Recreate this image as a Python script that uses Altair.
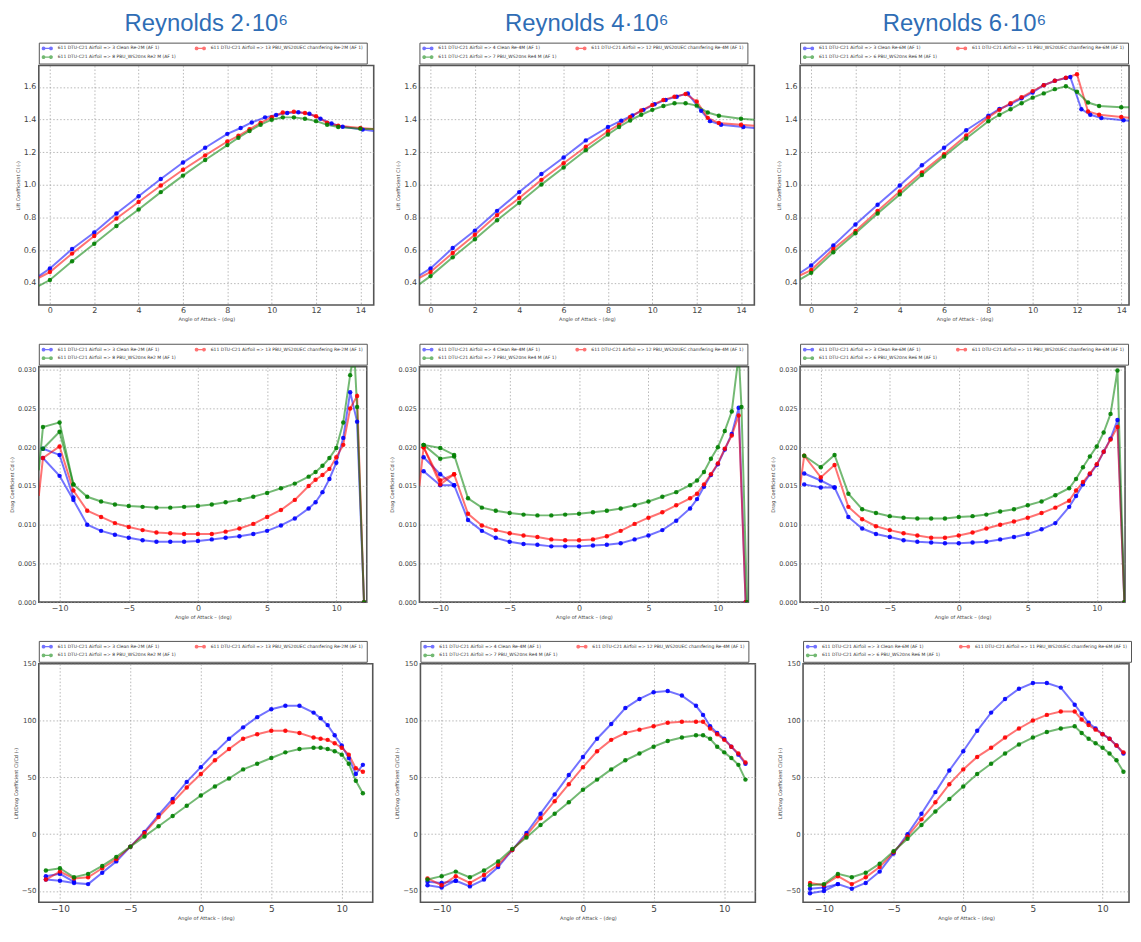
import altair as alt
import pandas as pd

BLUE, RED, GREEN = "#0000ff", "#ff0000", "#008000"

col_titles = ["Reynolds 2·10⁶", "Reynolds 4·10⁶", "Reynolds 6·10⁶"]

labels_2M = ["611 DTU-C21 Airfoil  => 3 Clean Re-2M (AF 1)",
             "611 DTU-C21 Airfoil  => 13 PBU_WS20UEC chamfering Re-2M (AF 1)",
             "611 DTU-C21 Airfoil  => 8 PBU_WS20ns Re2 M (AF 1)"]
labels_4M = ["611 DTU-C21 Airfoil  => 4 Clean Re-4M (AF 1)",
             "611 DTU-C21 Airfoil  => 12 PBU_WS20UEC chamfering Re-4M (AF 1)",
             "611 DTU-C21 Airfoil  => 7 PBU_WS20ns Re4 M (AF 1)"]
labels_6M = ["611 DTU-C21 Airfoil  => 3 Clean Re-6M (AF 1)",
             "611 DTU-C21 Airfoil  => 11 PBU_WS20UEC chamfering Re-6M (AF 1)",
             "611 DTU-C21 Airfoil  => 6 PBU_WS20ns Re6 M (AF 1)"]

# ---------------- Lift coefficient (first/last values are read at the frame edges) ----------------
cl2_blue_a = [-0.5, 0, 1, 2, 3, 4, 5, 6, 7, 8, 8.6, 9.1, 9.7, 10.2, 10.7, 11.2, 11.7, 12.2, 12.7, 13.2, 14.1, 14.6]
cl2_blue_v = [0.44, 0.487, 0.606, 0.707, 0.824, 0.93, 1.035, 1.136, 1.227, 1.312, 1.348, 1.382, 1.413, 1.427, 1.44, 1.445, 1.435, 1.405, 1.375, 1.355, 1.338, 1.33]
cl2_a = [-0.5, 0, 1, 2, 3, 4, 5, 6, 7, 8, 8.5, 9, 9.5, 10, 10.5, 11, 11.5, 12, 12.5, 13, 14, 14.6]
cl2_red_v = [0.43, 0.465, 0.578, 0.686, 0.793, 0.894, 0.995, 1.092, 1.18, 1.265, 1.30, 1.34, 1.38, 1.414, 1.443, 1.447, 1.44, 1.42, 1.38, 1.362, 1.348, 1.342]
cl2_green_v = [0.38, 0.416, 0.531, 0.638, 0.747, 0.848, 0.955, 1.056, 1.152, 1.243, 1.288, 1.33, 1.368, 1.399, 1.413, 1.413, 1.405, 1.39, 1.368, 1.354, 1.344, 1.342]

cl4_blue_a = [-0.5, 0, 1, 2, 3, 4, 5, 6, 7, 8, 8.6, 9.1, 9.6, 10.1, 10.6, 11.1, 11.6, 12.2, 12.6, 13.1, 14.1, 14.6]
cl4_blue_v = [0.445, 0.487, 0.612, 0.719, 0.84, 0.955, 1.066, 1.167, 1.272, 1.354, 1.393, 1.425, 1.459, 1.493, 1.52, 1.54, 1.56, 1.453, 1.39, 1.368, 1.354, 1.348]
cl4_a = [-0.5, 0, 1, 2, 3, 4, 5, 6, 7, 8, 8.5, 9, 9.5, 10, 10.5, 11, 11.5, 12, 12.5, 13, 14, 14.6]
cl4_red_v = [0.43, 0.465, 0.582, 0.693, 0.814, 0.919, 1.03, 1.132, 1.233, 1.328, 1.368, 1.415, 1.455, 1.489, 1.52, 1.54, 1.556, 1.51, 1.41, 1.378, 1.368, 1.362]
cl4_green_v = [0.39, 0.44, 0.555, 0.666, 0.783, 0.89, 1.001, 1.106, 1.211, 1.308, 1.354, 1.394, 1.429, 1.459, 1.483, 1.499, 1.499, 1.485, 1.443, 1.423, 1.405, 1.399]

cl6_blue_a = [-0.5, 0, 1, 2, 3, 4, 5, 6, 7, 8, 8.5, 9, 9.5, 10, 10.5, 11, 11.5, 11.7, 12.2, 12.6, 13.1, 14.1, 14.35]
cl6_blue_v = [0.46, 0.505, 0.628, 0.757, 0.878, 0.995, 1.12, 1.227, 1.334, 1.423, 1.465, 1.493, 1.53, 1.566, 1.61, 1.637, 1.654, 1.66, 1.463, 1.429, 1.409, 1.395, 1.392]
cl6_a = [-0.5, 0, 1, 2, 3, 4, 5, 6, 7, 8, 8.5, 9, 9.5, 10, 10.5, 11, 11.5, 12, 12.5, 13, 14, 14.35]
cl6_red_v = [0.445, 0.477, 0.606, 0.717, 0.84, 0.959, 1.076, 1.187, 1.302, 1.413, 1.459, 1.5, 1.536, 1.574, 1.61, 1.637, 1.656, 1.677, 1.449, 1.429, 1.415, 1.411]
cl6_green_v = [0.42, 0.46, 0.586, 0.703, 0.824, 0.941, 1.06, 1.173, 1.284, 1.389, 1.429, 1.463, 1.5, 1.534, 1.56, 1.586, 1.604, 1.57, 1.504, 1.483, 1.475, 1.475]

# ---------------- Drag coefficient ----------------
cd_a = [-11.2, -10, -9, -8, -7, -6, -5, -4, -3, -2, -1, 0, 1, 2, 3, 4, 5, 6, 7, 8, 8.5, 9, 9.5, 10, 10.5, 11, 11.5, 12]
cd2_blue_v = [0.0186, 0.0163, 0.0132, 0.0100, 0.0092, 0.0087, 0.0083, 0.0080, 0.0078, 0.0078, 0.0078, 0.0079, 0.0081, 0.0083, 0.0085, 0.0088, 0.0092, 0.0099, 0.0108, 0.0121, 0.0129, 0.0142, 0.0159, 0.0180, 0.0212, 0.0271, 0.0233, 0.0]
cd2_red_a = [-11.5] + cd_a
cd2_red_v = [0.0137, 0.0186, 0.0201, 0.0144, 0.0118, 0.0110, 0.0102, 0.0097, 0.0093, 0.0090, 0.0089, 0.0088, 0.0088, 0.0088, 0.0091, 0.0095, 0.0101, 0.0110, 0.0119, 0.0132, 0.0150, 0.0158, 0.0164, 0.0172, 0.0187, 0.0203, 0.0250, 0.0266, 0.0]
cd2_green_a = [-11.5, -11.2, -10, -9, -8, -7, -6, -5, -4, -3, -2, -1, 0, 1, 2, 3, 4, 5, 6, 7, 8, 8.5, 9, 9.5, 10, 10.5, 11, 11.1, 11.35, 11.5, 12]
cd2_green_v = [0.0170, 0.0226, 0.0232, 0.0152, 0.0136, 0.0130, 0.0126, 0.0124, 0.0123, 0.0122, 0.0122, 0.0123, 0.0124, 0.0126, 0.0129, 0.0132, 0.0136, 0.0141, 0.0147, 0.0153, 0.0162, 0.0168, 0.0176, 0.0186, 0.0199, 0.0232, 0.0293, 0.0304, 0.0304, 0.0252, 0.0]
cd2_blue_b_a = [-11.2, -10, -9]
cd2_blue_b_v = [0.0198, 0.0190, 0.0135]
cd2_green_b_a = [-11.2, -10, -9]
cd2_green_b_v = [0.0198, 0.0220, 0.0152]

cd4_blue_v = [0.0187, 0.0165, 0.0151, 0.0106, 0.0092, 0.0083, 0.0078, 0.0075, 0.0074, 0.0072, 0.0072, 0.0072, 0.0073, 0.0074, 0.0076, 0.0081, 0.0086, 0.0093, 0.0105, 0.0121, 0.0133, 0.0149, 0.0164, 0.0178, 0.0197, 0.0217, 0.0251, 0.0]
cd4_red_a = [-11.5] + cd_a
cd4_red_v = [0.0150, 0.0200, 0.0157, 0.0165, 0.0114, 0.0099, 0.0093, 0.0089, 0.0086, 0.0084, 0.0081, 0.0080, 0.0080, 0.0081, 0.0085, 0.0092, 0.0101, 0.0109, 0.0116, 0.0125, 0.0134, 0.0140, 0.0152, 0.0165, 0.0179, 0.0198, 0.0215, 0.0241, 0.0]
cd4_green_a = [-11.2, -10, -9, -8, -7, -6, -5, -4, -3, -2, -1, 0, 1, 2, 3, 4, 5, 6, 7, 8, 8.5, 9, 9.5, 10, 10.5, 11, 11.4, 11.55, 11.7, 12.1]
cd4_green_v = [0.0203, 0.0199, 0.0190, 0.0134, 0.0122, 0.0118, 0.0115, 0.0113, 0.0112, 0.0112, 0.0113, 0.0114, 0.0116, 0.0118, 0.0121, 0.0125, 0.0130, 0.0136, 0.0142, 0.0151, 0.0157, 0.0168, 0.0185, 0.0200, 0.0221, 0.0246, 0.0304, 0.0304, 0.0252, 0.0]
cd4_blue_b_a = [-11.2, -10, -9]
cd4_blue_b_v = [0.0169, 0.0151, 0.0151]
cd4_red_b_a = [-11.2, -10, -9]
cd4_red_b_v = [0.0200, 0.0152, 0.0165]
cd4_green_b_a = [-11.2, -10, -9]
cd4_green_b_v = [0.0203, 0.0185, 0.0188]

cd6_blue_v = [0.0166, 0.0157, 0.0148, 0.0110, 0.0095, 0.0088, 0.0084, 0.0080, 0.0078, 0.0077, 0.0076, 0.0076, 0.0077, 0.0078, 0.0081, 0.0084, 0.0088, 0.0094, 0.0102, 0.0123, 0.0137, 0.0152, 0.0165, 0.0177, 0.0194, 0.0211, 0.0235, 0.0]
cd6_red_a = [-11.5] + cd_a
cd6_red_v = [0.0150, 0.0189, 0.0161, 0.0177, 0.0123, 0.0107, 0.0098, 0.0093, 0.0089, 0.0086, 0.0083, 0.0083, 0.0086, 0.0090, 0.0095, 0.0100, 0.0104, 0.0109, 0.0115, 0.0122, 0.0131, 0.0144, 0.0155, 0.0166, 0.0178, 0.0194, 0.0210, 0.0226, 0.0]
cd6_green_v = [0.0189, 0.0174, 0.0190, 0.0140, 0.0120, 0.0115, 0.0111, 0.0109, 0.0108, 0.0108, 0.0108, 0.0110, 0.0111, 0.0113, 0.0117, 0.0120, 0.0125, 0.0130, 0.0138, 0.0147, 0.0159, 0.0174, 0.0188, 0.0201, 0.0219, 0.0243, 0.0299, 0.0]
cd6_blue_b_a = [-11.2, -10, -9]
cd6_blue_b_v = [0.0152, 0.0148, 0.0148]

# ---------------- Lift / Drag ----------------
ld_a = [-11, -10, -9, -8, -7, -6, -5, -4, -3, -2, -1, 0, 1, 2, 3, 4, 5, 6, 7, 8, 8.5, 9, 9.5, 10, 10.5, 11, 11.5]
ld2_blue_v = [-40, -41, -43, -44, -34, -24, -11, 2, 17, 31, 46, 59, 72, 84, 94, 103, 110, 113, 113, 107, 102, 96, 87, 78, 67, 53, 61]
ld2_red_v = [-40, -33, -39, -38, -30, -22, -11, 1, 15, 28, 41, 53, 65, 75, 84, 88, 91, 91, 89, 85, 84, 83, 80, 76, 70, 58, 55]
ld2_green_v = [-32, -30, -38, -35, -28, -20, -11, -2, 7, 16, 25, 34, 42, 49, 57, 62, 67, 72, 75, 76, 76, 75, 73, 70, 62, 47, 36]
ld2_blue_b_a = [-11, -10, -9]
ld2_blue_b_v = [-37, -35, -42]

ld4_blue_v = [-45, -47, -41, -46, -40, -29, -14, 1, 18, 35, 52, 68, 84, 97, 111, 119, 125, 126, 122, 113, 105, 95, 89, 84, 77, 70, 62]
ld4_red_v = [-39, -45, -37, -43, -36, -27, -14, -1, 14, 29, 44, 59, 73, 83, 89, 92, 95, 98, 99, 99, 99, 93, 88, 83, 77, 71, 63]
ld4_green_v = [-40, -37, -33, -38, -32, -24, -13, -3, 8, 18, 28, 39, 48, 57, 65, 71, 77, 82, 85, 87, 87, 84, 77, 72, 67, 61, 48]
ld4_blue_b_a = [-11, -10, -9]
ld4_blue_b_v = [-42, -43, -41]

ld6_blue_v = [-52, -50, -44, -48, -43, -33, -17, 0, 18, 37, 56, 73, 91, 107, 119, 128, 133, 133, 129, 114, 106, 98, 93, 88, 84, 78, 71]
ld6_red_v = [-43, -45, -37, -44, -38, -29, -16, -2, 13, 28, 44, 57, 68, 76, 85, 93, 100, 105, 108, 108, 101, 96, 92, 88, 84, 78, 72]
ld6_green_v = [-45, -44, -35, -38, -34, -26, -15, -4, 8, 20, 31, 42, 53, 62, 71, 79, 85, 90, 93, 95, 89, 84, 80, 76, 71, 65, 55]
ld6_blue_b_a = [-11, -10, -9]
ld6_blue_b_v = [-48, -47, -44]

SYMBOL = ("M-1.5,0L1.5,0"
          "M-2,0a0.5,0.5 0 1,0 1,0a0.5,0.5 0 1,0 -1,0"
          "M1,0a0.5,0.5 0 1,0 1,0a0.5,0.5 0 1,0 -1,0")
FONT = "DejaVu Sans"
XTITLE = "Angle of Attack – (deg)"


def panel(entries, labels, xdom, xticks, ydom, yticks, yfmt, ytitle, w, h,
          xfs, yfs, title=None):
    rows = []
    for idx, run, a, v in entries:
        for xa, yv in zip(a, v):
            inside = (xdom[0] < xa < xdom[1]) and (ydom[0] <= yv < ydom[1])
            rows.append({"alpha": xa, "value": yv, "series": labels[idx],
                         "key": labels[idx] + run, "m": inside})
    df = pd.DataFrame(rows)
    color = alt.Color(
        "series:N",
        scale=alt.Scale(domain=labels, range=[BLUE, RED, GREEN]),
        legend=alt.Legend(title=None, orient="top", direction="horizontal", columns=2,
                          symbolType=SYMBOL, symbolSize=25, symbolStrokeWidth=1.3,
                          symbolOffset=3, labelOffset=7,
                          labelFont=FONT, labelFontSize=4.5, labelColor="#333",
                          labelLimit=600, strokeColor="#555", fillColor="white",
                          padding=2, rowPadding=0, columnPadding=14, offset=2),
    )
    x = alt.X("alpha:Q", scale=alt.Scale(domain=xdom, nice=False, zero=False),
              axis=alt.Axis(values=xticks, format="d", title=XTITLE, labelFontSize=xfs,
                            labelPadding=2, titlePadding=2))
    y = alt.Y("value:Q", scale=alt.Scale(domain=ydom, nice=False, zero=False),
              axis=alt.Axis(values=yticks, format=yfmt, title=ytitle, labelFontSize=yfs))
    base = alt.Chart(df).encode(x=x, y=y, color=color, detail="key:N")
    lines = base.mark_line(clip=True, strokeWidth=2, opacity=0.55)
    pts = base.transform_filter("datum.m").mark_circle(clip=True, size=20, opacity=0.9)
    ch = alt.layer(lines, pts).properties(width=w, height=h)
    if title:
        ch = ch.properties(title=alt.TitleParams(title, fontSize=24, font="Liberation Sans",
                                                 fontWeight="normal", color="#2F6DB5",
                                                 anchor="middle", offset=6))
    return ch


CL_TICKS = [0.4, 0.6, 0.8, 1.0, 1.2, 1.4, 1.6]
CD_TICKS = [0.0, 0.005, 0.010, 0.015, 0.020, 0.025, 0.030]
LD_TICKS = [-50, 0, 50, 100, 150]
X1 = [0, 2, 4, 6, 8, 10, 12, 14]
X2 = [-10, -5, 0, 5, 10]
CLT, CDT, LDT = "Lift Coefficient Cl (-)", "Drag Coefficient Cd (-)", "Lift/Drag Coefficient Cl/Cd (-)"

row1 = [
    panel([(0, "a", cl2_blue_a, cl2_blue_v), (1, "a", cl2_a, cl2_red_v), (2, "a", cl2_a, cl2_green_v)],
          labels_2M, [-0.5, 14.6], X1, [0.263, 1.731], CL_TICKS, ".1f", CLT, 337, 241, 8, 8, col_titles[0]),
    panel([(0, "a", cl4_blue_a, cl4_blue_v), (1, "a", cl4_a, cl4_red_v), (2, "a", cl4_a, cl4_green_v)],
          labels_4M, [-0.5, 14.6], X1, [0.263, 1.731], CL_TICKS, ".1f", CLT, 337, 241, 8, 8, col_titles[1]),
    panel([(0, "a", cl6_blue_a, cl6_blue_v), (1, "a", cl6_a, cl6_red_v), (2, "a", cl6_a, cl6_green_v)],
          labels_6M, [-0.5, 14.35], X1, [0.263, 1.731], CL_TICKS, ".1f", CLT, 331, 241, 8, 8, col_titles[2]),
]
row2 = [
    panel([(0, "a", cd_a, cd2_blue_v), (0, "b", cd2_blue_b_a, cd2_blue_b_v),
           (1, "a", cd2_red_a, cd2_red_v),
           (2, "a", cd2_green_a, cd2_green_v), (2, "b", cd2_green_b_a, cd2_green_b_v)],
          labels_2M, [-11.5, 12.2], X2, [0, 0.0304], CD_TICKS, ".3f", CDT, 330, 237, 8, 6.5),
    panel([(0, "a", cd_a, cd4_blue_v), (0, "b", cd4_blue_b_a, cd4_blue_b_v),
           (1, "a", cd4_red_a, cd4_red_v), (1, "b", cd4_red_b_a, cd4_red_b_v),
           (2, "a", cd4_green_a, cd4_green_v), (2, "b", cd4_green_b_a, cd4_green_b_v)],
          labels_4M, [-11.5, 12.2], X2, [0, 0.0304], CD_TICKS, ".3f", CDT, 331, 237, 8, 6.5),
    panel([(0, "a", cd_a, cd6_blue_v), (0, "b", cd6_blue_b_a, cd6_blue_b_v),
           (1, "a", cd6_red_a, cd6_red_v), (2, "a", cd_a, cd6_green_v)],
          labels_6M, [-11.5, 12.05], X2, [0, 0.0304], CD_TICKS, ".3f", CDT, 327, 237, 8, 6.5),
]
row3 = [
    panel([(0, "a", ld_a, ld2_blue_v), (0, "b", ld2_blue_b_a, ld2_blue_b_v),
           (1, "a", ld_a, ld2_red_v), (2, "a", ld_a, ld2_green_v)],
          labels_2M, [-11.5, 12.2], X2, [-60, 150], LD_TICKS, "d", LDT, 336, 240, 9, 7),
    panel([(0, "a", ld_a, ld4_blue_v), (0, "b", ld4_blue_b_a, ld4_blue_b_v),
           (1, "a", ld_a, ld4_red_v), (2, "a", ld_a, ld4_green_v)],
          labels_4M, [-11.5, 12.2], X2, [-60, 150], LD_TICKS, "d", LDT, 337, 240, 9, 7),
    panel([(0, "a", ld_a, ld6_blue_v), (0, "b", ld6_blue_b_a, ld6_blue_b_v),
           (1, "a", ld_a, ld6_red_v), (2, "a", ld_a, ld6_green_v)],
          labels_6M, [-11.5, 11.9], X2, [-60, 150], LD_TICKS, "d", LDT, 328, 240, 9, 7),
]


def hrow(panels):
    return (alt.hconcat(*panels, spacing=20)
            .resolve_scale(color="independent", x="independent", y="independent")
            .resolve_legend(color="independent"))


chart = (
    alt.vconcat(hrow(row1), hrow(row2), hrow(row3), spacing=19)
    .resolve_scale(color="independent", x="independent", y="independent")
    .resolve_legend(color="independent")
    .properties(padding={"left": 0, "top": 0, "right": 0, "bottom": 0}, background="white")
    .configure_view(stroke="#555", strokeWidth=1.6)
    .configure_axis(labelFont=FONT, labelColor="#444", labelPadding=3,
                    titleFont=FONT, titleFontSize=5, titleFontWeight="normal", titleColor="#444",
                    titlePadding=3, grid=True, gridDash=[1.5, 2], gridColor="#999",
                    gridWidth=0.7, domain=False, ticks=False, tickSize=0)
)

chart.save("out.html", embed_options={"renderer": "svg", "actions": False})
